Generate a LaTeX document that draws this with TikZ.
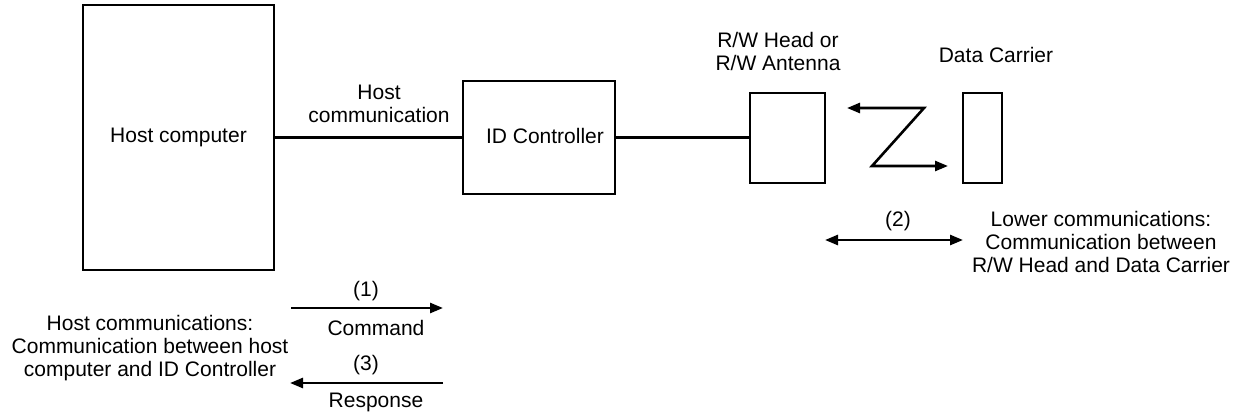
\documentclass[tikz,border=0pt]{standalone}
\usepackage{fontspec}
\setmainfont{Liberation Sans}
\usetikzlibrary{arrows.meta}
\tikzset{
  box/.style={draw, line width=2.8pt, inner sep=0pt},
  conn/.style={line width=2.4pt},
  arr/.style={line width=2.6pt, -{Triangle[length=13pt,width=10pt]}},
  darr/.style={line width=2.6pt, {Triangle[length=13pt,width=10pt]}-{Triangle[length=13pt,width=10pt]}},
  lbl/.style={inner sep=0pt, anchor=base, align=center},
}
\begin{document}
\begin{tikzpicture}[x=1pt,y=-1pt, font=\fontsize{21}{23}\selectfont]
\useasboundingbox (0,0) rectangle (1241,415);
% boxes
\node[box, minimum width=191pt, minimum height=265pt] (host) at (178.5,137.5) {Host computer};
\node[box, minimum width=152pt, minimum height=113pt] (idc) at (539,137.5) {};
\node[lbl] (idclbl) at (545,143) {ID Controller};
\node[box, minimum width=75pt, minimum height=90pt] (rw) at (787.5,138) {};
\node[box, minimum width=39pt, minimum height=90pt] (dc) at (982.5,138) {};
% connectors
\draw[conn] (host.east) -- (idc.west);
\draw[conn] (idc.east) -- (idc.east -| rw.west);
% labels (base anchor = baseline of last line)
\node[lbl] (hostcomm) at (379,122) {Host\\communication};
\node[lbl] (rwlbl) at (778,70) {R/W Head or\\R/W Antenna};
\node[lbl] (dclbl) at (996,62) {Data Carrier};
% Z arrow
\coordinate (z1) at (924,108);
\coordinate (z2) at (872,166);
\coordinate (zt1) at (847,108);
\coordinate (zt2) at (948,166);
\draw[darr, line join=miter] (zt1) -- (z1) -- (z2) -- (zt2);
% (2) lower communications
\coordinate (a2l) at (825,240);
\coordinate (a2r) at (963,240);
\draw[darr] (a2l) -- (a2r);
\node[lbl] (n2) at (898,226) {(2)};
\node[lbl] (lower) at (1101,272) {Lower communications:\\Communication between\\R/W Head and Data Carrier};
% (1) and (3)
\coordinate (a1l) at (291,308);
\coordinate (a1r) at (443,308);
\draw[arr] (a1l) -- (a1r);
\node[lbl] (n1) at (366,296) {(1)};
\node[lbl] (cmd) at (376,335) {Command};
\coordinate (a3r) at (443,383);
\coordinate (a3l) at (290,383);
\draw[arr] (a3r) -- (a3l);
\node[lbl] (n3) at (366,370) {(3)};
\node[lbl] (resp) at (376,407) {Response};
\node[lbl] (hostcomms) at (150,376) {Host communications:\\Communication between host\\computer and ID Controller};
\end{tikzpicture}
\end{document}
